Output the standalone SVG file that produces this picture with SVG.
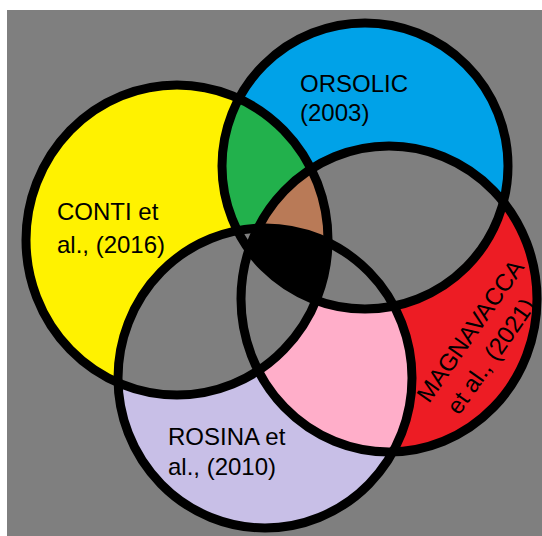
<svg xmlns="http://www.w3.org/2000/svg" width="542" height="536" viewBox="0 0 542 536">
<style>
.o{fill:none;stroke:#000;stroke-width:9}
.t{font-family:"Liberation Sans",Arial,sans-serif;font-size:24px;fill:#000}
</style>
<defs>
<ellipse id="Y" cx="177" cy="240" rx="151" ry="155"/>
<ellipse id="B" cx="365" cy="166" rx="143" ry="143"/>
<ellipse id="R" cx="389" cy="299" rx="148" ry="153"/>
<ellipse id="L" cx="265" cy="378" rx="147" ry="150"/>
<clipPath id="cY"><use href="#Y"/></clipPath>
<clipPath id="cB"><use href="#B"/></clipPath>
<clipPath id="cR"><use href="#R"/></clipPath>
<clipPath id="cL"><use href="#L"/></clipPath>
</defs>
<rect x="0" y="0" width="542" height="536" fill="#fff"/>
<rect x="7" y="10" width="535" height="526" fill="#7f7f7f"/>
<g id="fills">
<use href="#Y" fill="#fff200"/>
<use href="#B" fill="#00a2e8"/>
<use href="#R" fill="#ed1c24"/>
<use href="#L" fill="#c8bfe7"/>
<g fill="#7f7f7f">
<g clip-path="url(#cY)"><use href="#B"/><use href="#R"/><use href="#L"/></g>
<g clip-path="url(#cB)"><use href="#R"/><use href="#L"/></g>
<g clip-path="url(#cR)"><use href="#L"/></g>
</g>
<g clip-path="url(#cY)"><use href="#B" fill="#22b14c"/></g>
<g clip-path="url(#cR)"><use href="#L" fill="#ffaec9"/></g>
<g fill="#7f7f7f">
<g clip-path="url(#cY)"><g clip-path="url(#cB)"><use href="#L"/></g></g>
<g clip-path="url(#cY)"><g clip-path="url(#cR)"><use href="#L"/></g></g>
<g clip-path="url(#cB)"><g clip-path="url(#cR)"><use href="#L"/></g></g>
</g>
<g clip-path="url(#cY)"><g clip-path="url(#cB)"><use href="#R" fill="#b97a57"/></g></g>
<g clip-path="url(#cY)"><g clip-path="url(#cB)"><g clip-path="url(#cR)"><use href="#L" fill="#000"/></g></g></g>
</g>
<g id="connectors"></g>
<g id="conti"><use href="#Y" class="o"/><text class="t" x="57" y="220">CONTI et</text><text class="t" x="57" y="253">al., (2016)</text></g>
<g id="orsolic"><use href="#B" class="o"/><text class="t" x="300" y="92">ORSOLIC</text><text class="t" x="300" y="121">(2003)</text></g>
<g id="magnavacca"><use href="#R" class="o"/><text class="t" transform="translate(429,404) rotate(-55)">MAGNAVACCA</text><text class="t" transform="translate(459,416) rotate(-55)">et al., (2021)</text></g>
<g id="rosina"><use href="#L" class="o"/><text class="t" x="168" y="445">ROSINA et</text><text class="t" x="168" y="475">al., (2010)</text></g>
</svg>
